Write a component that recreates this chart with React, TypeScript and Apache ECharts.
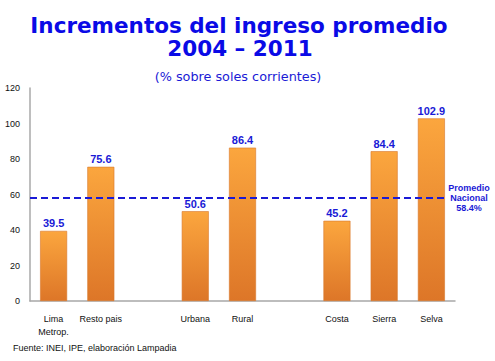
import React, { useEffect, useRef } from "react";
import * as echarts from "echarts";

const categories = ["Lima\nMetrop.", "Resto pais", "", "Urbana", "Rural", "", "Costa", "Sierra", "Selva"];
const values: (number | null)[] = [39.5, 75.6, null, 50.6, 86.4, null, 45.2, 84.4, 102.9];
const promedioNacional = 58.4;
const yTicks = [0, 20, 40, 60, 80, 100, 120];
const titleLine1 = "Incrementos del ingreso promedio";
const titleLine2 = "2004 – 2011";
const subtitle = "(% sobre soles corrientes)";
const source = "Fuente: INEI, IPE, elaboración Lampadia";

const BLUE = "#1A1AD6";
const FONT = "'Liberation Sans', Arial, sans-serif";
const TFONT = "'DejaVu Sans', Verdana, sans-serif";

export default function App() {
  const ref = useRef<HTMLDivElement>(null);
  useEffect(() => {
    document.body.style.margin = "0";
    if (!ref.current) return;
    const chart = echarts.init(ref.current, null, { renderer: "svg" });
    chart.setOption({
      animation: false,
      textStyle: { fontFamily: FONT },
      grid: { left: 30, right: 40, top: 88, height: 213, containLabel: false },
      xAxis: {
        type: "category",
        data: categories,
        axisLine: { lineStyle: { color: "#A8A8A8", width: 1.5 } },
        axisTick: { show: false },
        axisLabel: { color: "#111", fontSize: 9, margin: 11, lineHeight: 13, interval: 0, fontFamily: FONT },
      },
      yAxis: {
        type: "value",
        min: yTicks[0],
        max: yTicks[yTicks.length - 1],
        interval: 20,
        axisLine: { show: true, lineStyle: { color: "#A8A8A8", width: 1.5 } },
        axisTick: { show: false },
        splitLine: { show: false },
        axisLabel: { color: "#111", fontSize: 9, margin: 10, fontFamily: FONT },
      },
      series: [
        {
          type: "bar",
          data: values,
          barWidth: 27,
          itemStyle: {
            color: new echarts.graphic.LinearGradient(0, 0, 0, 1, [
              { offset: 0, color: "#FBA63E" },
              { offset: 1, color: "#DD7628" },
            ]),
            borderColor: "#D8782E",
            borderWidth: 0.6,
          },
          label: {
            show: true,
            position: "top",
            distance: 2,
            color: BLUE,
            fontWeight: "bold",
            fontSize: 11,
            fontFamily: FONT,
            formatter: (p: any) => p.value.toFixed(1),
          },
          markLine: {
            silent: true,
            symbol: "none",
            label: { show: false },
            lineStyle: { color: BLUE, type: [7, 4], width: 2 },
            data: [[{ x: 30, yAxis: promedioNacional }, { x: 444, yAxis: promedioNacional }]],
          },
        },
      ],
      graphic: [
        {
          type: "text",
          x: 239,
          y: 25,
          style: {
            text: titleLine1,
            textAlign: "center",
            textVerticalAlign: "middle",
            fill: "#0A0AE6",
            font: `bold 21.5px ${TFONT}`,
          },
        },
        {
          type: "text",
          x: 240,
          y: 48,
          style: {
            text: titleLine2,
            textAlign: "center",
            textVerticalAlign: "middle",
            fill: "#0A0AE6",
            font: `bold 21.5px ${TFONT}`,
          },
        },
        {
          type: "text",
          x: 238,
          y: 76,
          style: {
            text: subtitle,
            textAlign: "center",
            textVerticalAlign: "middle",
            fill: BLUE,
            font: `12.8px ${TFONT}`,
          },
        },
        {
          type: "text",
          x: 469,
          y: 198,
          style: {
            text: `Promedio\nNacional\n${promedioNacional}%`,
            textAlign: "center",
            textVerticalAlign: "middle",
            fill: BLUE,
            font: `bold 9px ${FONT}`,
            lineHeight: 10,
          },
        },
        {
          type: "text",
          x: 13,
          y: 348,
          style: {
            text: source,
            textAlign: "left",
            textVerticalAlign: "middle",
            fill: "#111",
            font: `9px ${FONT}`,
          },
        },
      ],
    });
    return () => chart.dispose();
  }, []);
  return <div ref={ref} style={{ width: 495, height: 361 }} />;
}
